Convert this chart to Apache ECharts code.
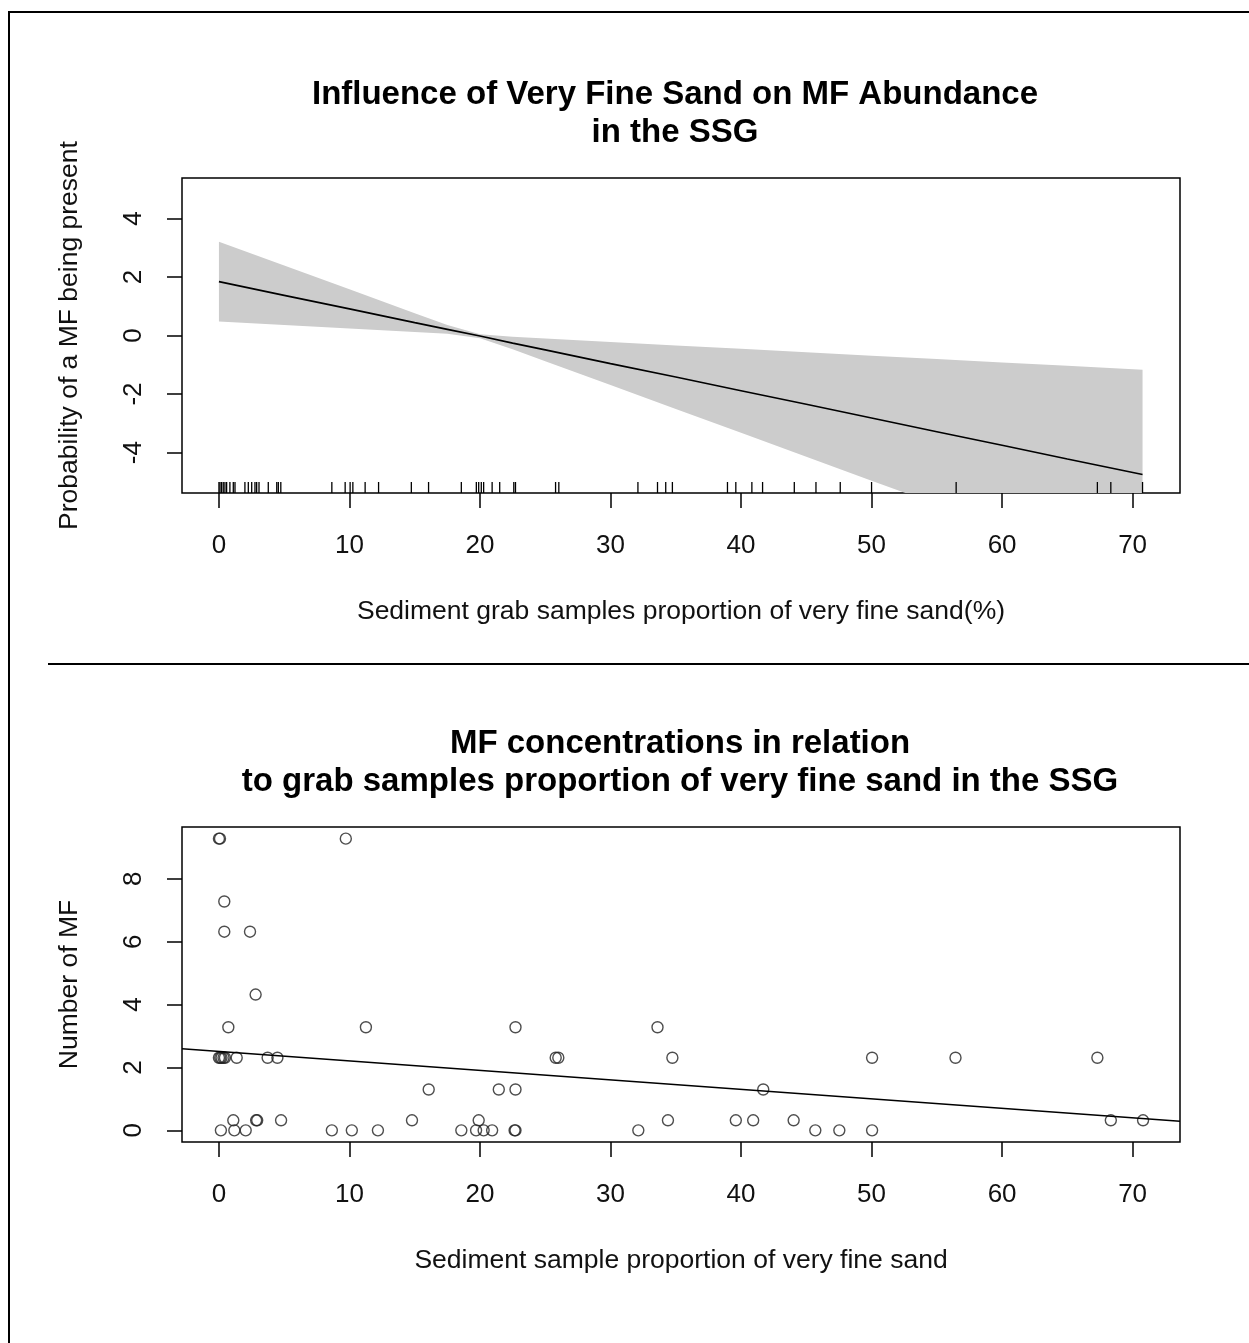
<!DOCTYPE html>
<html>
<head>
<meta charset="utf-8">
<title>MF abundance and very fine sand</title>
<script src="https://cdn.jsdelivr.net/npm/echarts@6.0.0/dist/echarts.min.js"></script>
<style>
  html, body { margin: 0; padding: 0; background: #fff; }
  #chart { width: 1249px; height: 1343px; }
</style>
</head>
<body>
<div id="chart"></div>
<script>
// ---- top panel: smooth term with confidence band ----
var bandX  = [0, 5, 10, 15, 17.5, 20, 22.5, 25, 30, 35, 40, 45, 50, 55, 60, 65, 70.76];
var fitY   = [1.84, 1.37, 0.91, 0.44, 0.21, -0.02, -0.26, -0.49, -0.96, -1.42, -1.89, -2.35, -2.82, -3.29, -3.75, -4.22, -4.75];
var upperY = [3.20, 2.39, 1.58, 0.76, 0.36, 0.04, -0.04, -0.10, -0.22, -0.34, -0.45, -0.57, -0.69, -0.80, -0.92, -1.03, -1.17];
var lowerY = [0.48, 0.36, 0.24, 0.12, 0.06, -0.09, -0.47, -0.88, -1.69, -2.51, -3.32, -4.14, -4.96, -5.77, -6.59, -7.40, -8.34];
var rugX = [0, 0.08, 0.2, 0.33, 0.46, 0.59, 0.84, 1.1, 1.23, 1.99, 2.25, 2.51, 2.76, 2.89, 3.07,
            3.78, 4.43, 4.55, 4.74, 8.65, 9.67, 10.05, 10.26, 11.2, 12.23, 14.74, 16.06, 18.57,
            19.72, 19.9, 20.1, 20.28, 20.93, 21.51, 22.59, 22.72, 25.79, 26.04, 32.1, 33.6, 34.23,
            34.74, 38.96, 39.6, 40.83, 41.65, 44.08, 45.74, 47.6, 50.0, 56.48, 67.3, 68.33, 70.76];

// ---- bottom panel: raw counts with a linear fit ----
var pointX = [0.0, 0.08, 9.72, 0.41, 0.41, 2.38, 2.81, 0.72, 11.26, 22.72, 33.6,
              0.0, 0.1, 0.2, 0.35, 0.46, 1.36, 3.73, 4.48, 25.8, 26.0, 34.74, 50.04, 56.43, 67.3,
              16.07, 21.44, 22.72, 41.7,
              1.1, 2.85, 2.93, 4.76, 14.79, 19.9, 34.4, 39.6, 40.93, 44.03, 68.33, 70.8,
              0.15, 1.18, 2.05, 8.65, 10.18, 12.18, 18.57, 19.7, 20.28, 20.93, 22.65, 22.72, 32.13, 45.69, 47.53, 50.04];
var pointY = [9.28, 9.28, 9.28, 7.28, 6.32, 6.32, 4.32, 3.28, 3.28, 3.28, 3.28,
              2.31, 2.31, 2.31, 2.31, 2.31, 2.31, 2.31, 2.31, 2.31, 2.31, 2.31, 2.31, 2.31, 2.31,
              1.3, 1.3, 1.3, 1.3,
              0.32, 0.32, 0.32, 0.32, 0.32, 0.32, 0.32, 0.32, 0.32, 0.32, 0.32, 0.32,
              0, 0, 0, 0, 0, 0, 0, 0, 0, 0, 0, 0, 0, 0, 0, 0];
var ablineX = [-2.83, 73.63];
var ablineY = [2.60, 0.29];

// ---- axes ----
var xTicks = [0, 10, 20, 30, 40, 50, 60, 70];
var yTicksTop = [-4, -2, 0, 2, 4];
var yTicksBottom = [0, 2, 4, 6, 8];
var xRange = [-2.83, 73.63];
var yRangeTop = [-5.38, 5.38];
var yRangeBottom = [-0.37, 9.65];

var FONT = 'Liberation Sans, Arial, sans-serif';
var INK = '#111';

function pairs(xs, ys) {
	return xs.map(function (x, i) { return [x, ys[i]]; });
}

function xAxisFor(gridIndex, name) {
	return {
		type: 'value', gridIndex: gridIndex,
		min: xRange[0], max: xRange[1],
		name: name, nameLocation: 'middle', nameGap: 105,
		nameTextStyle: { color: INK, fontSize: 26.5, fontFamily: FONT },
		axisLine: { show: false, onZero: false },
		axisTick: { show: true, inside: false, length: 15, customValues: xTicks,
			lineStyle: { color: '#000', width: 1.5 } },
		axisLabel: { show: true, margin: 40, customValues: xTicks,
			color: INK, fontSize: 26, fontFamily: FONT },
		splitLine: { show: false }
	};
}

function yAxisFor(gridIndex, name, range, ticks) {
	return {
		type: 'value', gridIndex: gridIndex,
		min: range[0], max: range[1],
		name: name, nameLocation: 'middle', nameGap: 99,
		nameTextStyle: { color: INK, fontSize: 26.5, fontFamily: FONT },
		axisLine: { show: false, onZero: false },
		axisTick: { show: true, inside: false, length: 15, customValues: ticks,
			lineStyle: { color: '#000', width: 1.5 } },
		axisLabel: { show: true, margin: 35, rotate: 90, customValues: ticks,
			color: INK, fontSize: 26, fontFamily: FONT },
		splitLine: { show: false }
	};
}

var chart = echarts.init(document.getElementById('chart'), null, { renderer: 'canvas' });

function titleText(x, y, text) {
	return { type: 'text', x: x, y: y, style: { text: text,
		font: 'bold 33px ' + FONT, fill: '#000', textAlign: 'center', textVerticalAlign: 'middle' } };
}

var option = {
	backgroundColor: '#fff',
	animation: false,
	textStyle: { fontFamily: FONT },
	grid: [
		{ left: 182, top: 178, width: 998, height: 315, show: true,
		  borderColor: '#000', borderWidth: 1.5, backgroundColor: 'transparent' },
		{ left: 182, top: 827, width: 998, height: 315, show: true,
		  borderColor: '#000', borderWidth: 1.5, backgroundColor: 'transparent' }
	],
	xAxis: [
		xAxisFor(0, 'Sediment grab samples proportion of very fine sand(%)'),
		xAxisFor(1, 'Sediment sample proportion of very fine sand')
	],
	yAxis: [
		yAxisFor(0, 'Probability of a MF being present', yRangeTop, yTicksTop),
		yAxisFor(1, 'Number of MF', yRangeBottom, yTicksBottom)
	],
	graphic: [
		// frame round the whole figure and the line between panels
		{ type: 'rect', shape: { x: 9, y: 12, width: 1400, height: 1500 },
		  style: { fill: null, stroke: '#000', lineWidth: 2 }, silent: true },
		{ type: 'line', shape: { x1: 48, y1: 664, x2: 1249, y2: 664 },
		  style: { stroke: '#000', lineWidth: 2 }, silent: true },
		titleText(675, 95, 'Influence of Very Fine Sand on MF Abundance'),
		titleText(675, 133, 'in the SSG'),
		titleText(680, 744, 'MF concentrations in relation'),
		titleText(680, 782, 'to grab samples proportion of very fine sand in the SSG')
	],
	series: [
		{
			// confidence band as one polygon: upper edge forward, lower edge back
			name: 'band', type: 'custom', xAxisIndex: 0, yAxisIndex: 0,
			clip: true, silent: true,
			data: [[bandX[0], upperY[0]]],
			renderItem: function (params, api) {
				var pts = [];
				for (var i = 0; i < bandX.length; i++) pts.push(api.coord([bandX[i], upperY[i]]));
				for (var j = bandX.length - 1; j >= 0; j--) pts.push(api.coord([bandX[j], lowerY[j]]));
				var cs = params.coordSys;
				return {
					type: 'polygon',
					shape: { points: pts },
					style: { fill: '#cccccc', stroke: null },
					clipPath: { type: 'rect', shape: { x: cs.x, y: cs.y, width: cs.width, height: cs.height } }
				};
			}
		},
		{
			name: 'fit', type: 'line', xAxisIndex: 0, yAxisIndex: 0,
			data: pairs(bandX, fitY), symbol: 'none',
			lineStyle: { color: '#000', width: 1.6 }, silent: true
		},
		{
			name: 'rug', type: 'custom', xAxisIndex: 0, yAxisIndex: 0,
			data: rugX.map(function (x) { return [x, yRangeTop[0]]; }),
			renderItem: function (params, api) {
				var p = api.coord([api.value(0), api.value(1)]);
				return { type: 'line', shape: { x1: p[0], y1: p[1], x2: p[0], y2: p[1] - 11 },
					style: { stroke: '#000', lineWidth: 1.3 } };
			},
			silent: true
		},
		{
			name: 'MF', type: 'scatter', xAxisIndex: 1, yAxisIndex: 1,
			data: pairs(pointX, pointY), symbol: 'circle', symbolSize: 11,
			itemStyle: { color: 'rgba(0,0,0,0)', borderColor: '#222', borderWidth: 1.4 },
			silent: true
		},
		{
			name: 'abline', type: 'line', xAxisIndex: 1, yAxisIndex: 1,
			data: pairs(ablineX, ablineY), symbol: 'none',
			lineStyle: { color: '#000', width: 1.5 }, silent: true
		}
	]
};
chart.setOption(option);
</script>
</body>
</html>
